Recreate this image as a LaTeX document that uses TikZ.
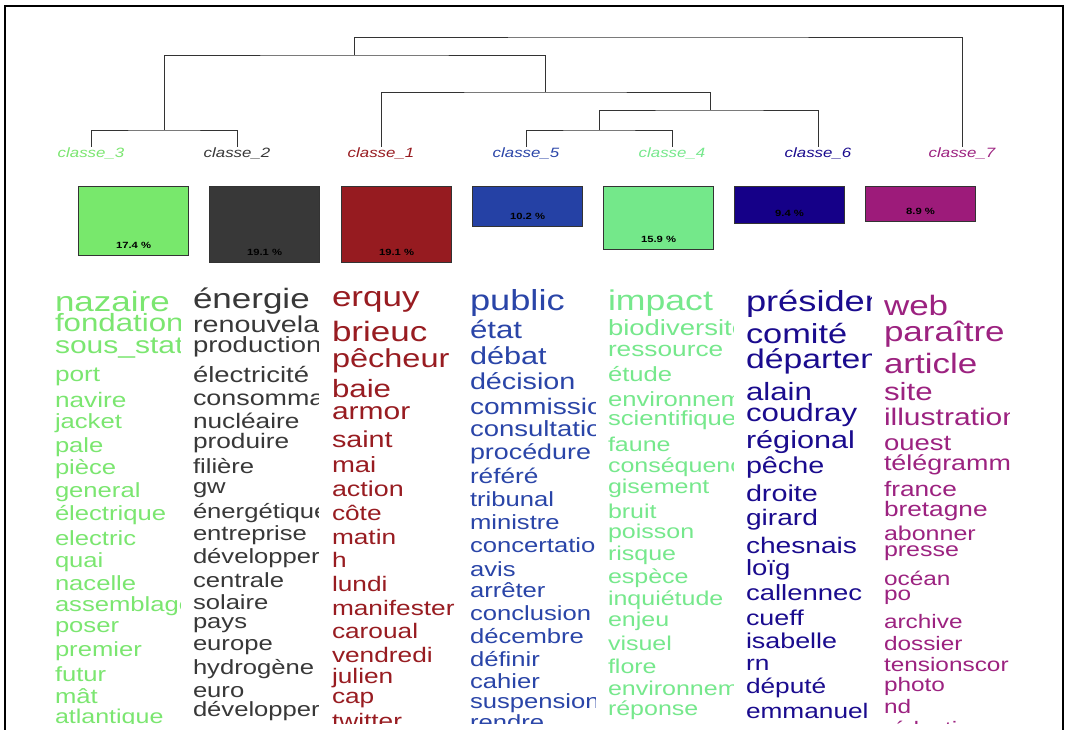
\documentclass[tikz,border=0pt]{standalone}
\usepackage{fontspec}
\newfontfamily\wf[FakeStretch=1.25]{Liberation Sans}
\definecolor{cA}{HTML}{7BE670}
\definecolor{cB}{HTML}{383838}
\definecolor{cC}{HTML}{981C21}
\definecolor{cD}{HTML}{2A45A8}
\definecolor{cE}{HTML}{76E88C}
\definecolor{cF}{HTML}{1A0B8E}
\definecolor{cG}{HTML}{9C2280}
\definecolor{boxA}{HTML}{78E86C}
\definecolor{boxB}{HTML}{383838}
\definecolor{boxC}{HTML}{961B20}
\definecolor{boxD}{HTML}{2541A5}
\definecolor{boxE}{HTML}{74E88A}
\definecolor{boxF}{HTML}{150088}
\definecolor{boxG}{HTML}{9D1B7A}
\definecolor{dline}{HTML}{333333}
\newcommand\wordcolumn[4]{%
  \begin{scope}
    \clip (#2-3,270) rectangle (#2+125,723);
    \foreach \s/\b/\w [count=\i] in {#4} {
      \node[word, text=#3, font=\wf\fontsize{\s}{\s}\selectfont] (#1w\i) at (#2,\b) {\w};
    }
  \end{scope}}
\begin{document}
\begin{tikzpicture}[x=1pt,y=-1pt,
  word/.style={anchor=base west, inner sep=0pt, outer sep=0pt},
  leaf/.style={anchor=base, inner sep=0pt, font=\wf\itshape\fontsize{13.5}{13.5}\selectfont},
  dendro/.style={draw=dline, line width=0.9pt},
  clbox/.style={draw=dline, line width=1.1pt, anchor=north west, minimum width=110pt, inner sep=0pt},
  pct/.style={inner sep=0pt, font=\wf\bfseries\fontsize{9}{9}\selectfont, text=black}]
\useasboundingbox (0,0) rectangle (1065,730);
\fill[white] (0,0) rectangle (1065,730);
\draw[black, line width=1.2pt] (5,730) -- (5,6) -- (1063,6) -- (1063,730);

% leaf labels
\node[leaf, text=cA] (lab3) at (91,158) {classe\_3};
\node[leaf, text=cB] (lab2) at (237,158) {classe\_2};
\node[leaf, text=cC] (lab1) at (381,158) {classe\_1};
\node[leaf, text=cD] (lab5) at (526,158) {classe\_5};
\node[leaf, text=cE] (lab4) at (672,158) {classe\_4};
\node[leaf, text=cF] (lab6) at (818,158) {classe\_6};
\node[leaf, text=cG] (lab7) at (962,158) {classe\_7};

% dendrogram
\coordinate (l3) at (91,147);
\coordinate (l2) at (237,147);
\coordinate (l1) at (381,147);
\coordinate (l5) at (526,147);
\coordinate (l4) at (672,147);
\coordinate (l6) at (818,147);
\coordinate (l7) at (962,147);
\coordinate (m32) at (164,130);
\coordinate (m54) at (599,130);
\coordinate (m546) at (710,110);
\coordinate (m1546) at (545,92);
\coordinate (mA) at (354,55);
\coordinate (mR) at (658,37);
\draw[dendro] (l3) |- (m32) -| (l2);
\draw[dendro] (l5) |- (m54) -| (l4);
\draw[dendro] (m54) |- (m546) -| (l6);
\draw[dendro] (l1) |- (m1546) -| (m546);
\draw[dendro] (m32) |- (mA) -| (m1546);
\draw[dendro] (mA) |- (mR) -| (l7);

% boxes
\node[clbox, fill=boxA, minimum height=69pt] (b3) at (78,186) {};
\node[clbox, fill=boxB, minimum height=76pt] (b2) at (209,186) {};
\node[clbox, fill=boxC, minimum height=76pt] (b1) at (341,186) {};
\node[clbox, fill=boxD, minimum height=40pt] (b5) at (472,186) {};
\node[clbox, fill=boxE, minimum height=63pt] (b4) at (603,186) {};
\node[clbox, fill=boxF, minimum height=37pt] (b6) at (734,186) {};
\node[clbox, fill=boxG, minimum height=35pt] (b7) at (865,186) {};
\node[pct] (p3) at ([yshift=11pt]b3.south) {17.4 \%};
\node[pct] (p2) at ([yshift=11pt]b2.south) {19.1 \%};
\node[pct] (p1) at ([yshift=11pt]b1.south) {19.1 \%};
\node[pct] (p5) at ([yshift=11pt]b5.south) {10.2 \%};
\node[pct] (p4) at ([yshift=11pt]b4.south) {15.9 \%};
\node[pct] (p6) at ([yshift=11pt]b6.south) {9.4 \%};
\node[pct] (p7) at ([yshift=11pt]b7.south) {8.9 \%};

% word columns
\wordcolumn{cA}{55}{cA}{28/311.5/nazaire, 25/331/fondation, 24/353/sous\_station, 21/381/port, 21/407/navire, 20.5/428/jacket, 20.5/452/pale, 20.5/474/pièce, 20.5/497/general, 20.5/520.5/électrique, 20.5/545.5/electric, 20.5/567.5/quai, 20.5/590.5/nacelle, 20.5/611/assemblage, 20.5/632/poser, 20.5/656/premier, 20.5/681.5/futur, 20.5/703/mât, 20/723/atlantique}
\wordcolumn{cB}{193}{cB}{28/308/énergie, 23/332.5/renouvelable, 22/352/production, 22/382/électricité, 21.5/405/consommation, 21/428.5/nucléaire, 21/448/produire, 20.5/473.5/filière, 20.5/493/gw, 20.5/518.5/énergétique, 20.5/540.5/entreprise, 20.5/563/développer, 20.5/587.5/centrale, 20.5/609.5/solaire, 20.5/628.5/pays, 20.5/650.5/europe, 20.5/674.5/hydrogène, 20.5/697.5/euro, 20.5/716.5/développer}
\wordcolumn{cC}{332}{cC}{28/306.5/erquy, 28/341.5/brieuc, 26/367.5/pêcheur, 25/397/baie, 24/419/armor, 23/447/saint, 22/472/mai, 21.5/496/action, 21/520.5/côte, 21/544/matin, 21/567.5/h, 21/591/lundi, 21/615.5/manifester, 21/638/caroual, 21/662.5/vendredi, 21/683/julien, 21/703.5/cap, 21/728/twitter}
\wordcolumn{cD}{470}{cD}{29/310.5/public, 25/338.5/état, 24.5/364/débat, 23/389/décision, 22.5/414/commission, 22/436.5/consultation, 21.5/459/procédure, 21/483/référé, 20.5/506/tribunal, 20.5/529/ministre, 20.5/552.5/concertation, 20.5/576/avis, 20.5/597.5/arrêter, 20.5/620.5/conclusion, 20.5/643/décembre, 20.5/666/définir, 20.5/688.5/cahier, 20.5/708/suspension, 20.5/729/rendre}
\wordcolumn{cE}{608}{cE}{28.5/310/impact, 22/335/biodiversité, 21/356.5/ressource, 20.5/381.5/étude, 20.5/406.5/environnement, 20.5/425/scientifique, 20/451.5/faune, 20/472.5/conséquence, 20/493.5/gisement, 20/518/bruit, 20/538.5/poisson, 20/560/risque, 20/583/espèce, 20/605/inquiétude, 20/626.5/enjeu, 20/650/visuel, 20/673/flore, 20/695/environnement, 20/715/réponse}
\wordcolumn{cF}{746}{cF}{29/311.5/président, 27.5/343/comité, 27/368/département, 25/400/alain, 25/421.5/coudray, 24.5/448/régional, 23/473/pêche, 23/501/droite, 22.5/525/girard, 22.5/553/chesnais, 22/575/loïg, 22/600/callennec, 21.5/625/cueff, 21.5/648/isabelle, 21/670/rn, 21/693/député, 21/718/emmanuel}
\wordcolumn{cG}{884}{cG}{28/315/web, 28/341.5/paraître, 28/373/article, 25/400/site, 24/425/illustration, 22/450/ouest, 21.5/470/télégramme, 21/496.5/france, 21/516.5/bretagne, 20/540/abonner, 20/556.5/presse, 19.5/585/océan, 19.5/600/po, 19.5/628/archive, 19.5/650/dossier, 19.5/671.5/tensionscor, 19.5/691.5/photo, 19.5/713/nd, 19.5/735/rédaction}
\end{tikzpicture}
\end{document}
